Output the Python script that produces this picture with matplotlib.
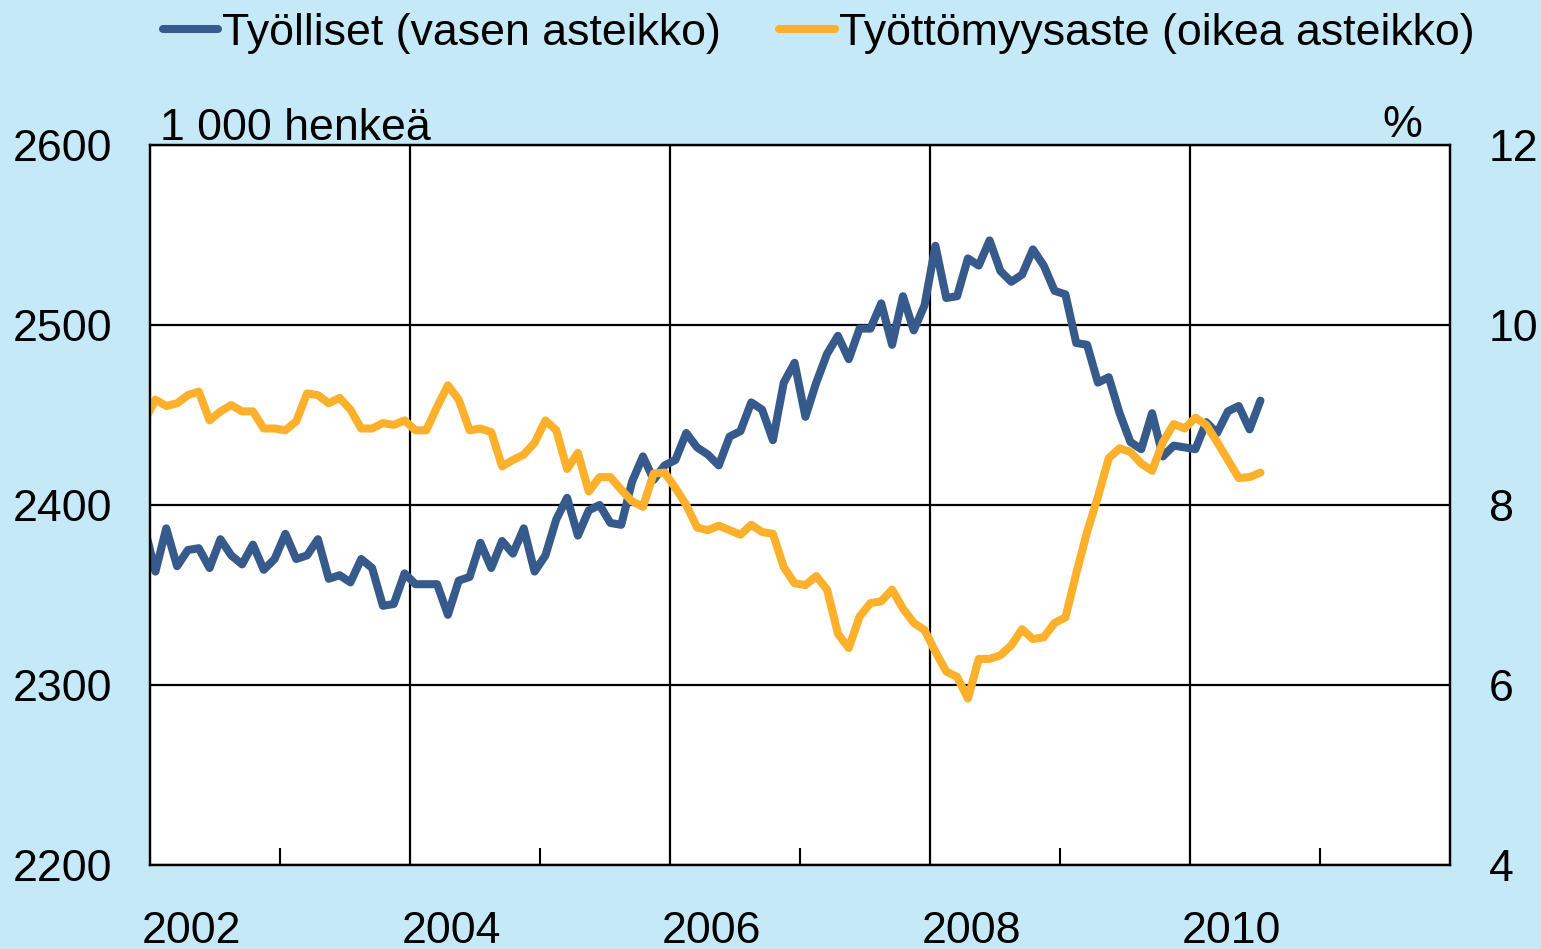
import numpy as np
import matplotlib
matplotlib.use("Agg")
import matplotlib.pyplot as plt

plt.rcParams['font.family'] = ['Liberation Sans', 'DejaVu Sans']

# kuukausidata, joulukuu 2001 - heinäkuu 2010
kuukaudet = np.arange(-1, 103)
tyolliset = [2387,
             2363, 2387, 2366, 2375, 2376, 2365, 2381, 2372, 2367, 2378, 2364, 2370,
             2384, 2370, 2372, 2381, 2359, 2361, 2357, 2370, 2365, 2344, 2345, 2362,
             2356, 2356, 2356, 2339, 2358, 2360, 2379, 2365, 2380, 2373, 2387, 2363,
             2372, 2392, 2404, 2383, 2397, 2400, 2390, 2389, 2413, 2427, 2414, 2422,
             2425, 2440, 2432, 2428, 2422, 2438, 2441, 2457, 2453, 2436, 2468, 2479,
             2449, 2468, 2484, 2494, 2481, 2498, 2498, 2512, 2489, 2516, 2497, 2511,
             2544, 2515, 2516, 2537, 2533, 2547, 2530, 2524, 2528, 2542, 2533, 2519,
             2517, 2490, 2489, 2468, 2471, 2451, 2435, 2431, 2451, 2427, 2433, 2432,
             2431, 2446, 2440, 2452, 2455, 2442, 2458]
tyottomyysaste = [8.94,
                  9.17, 9.10, 9.13, 9.22, 9.26, 8.94, 9.04, 9.11, 9.04, 9.04, 8.85, 8.85,
                  8.83, 8.93, 9.24, 9.22, 9.13, 9.19, 9.06, 8.85, 8.85, 8.91, 8.89, 8.94,
                  8.83, 8.83, 9.09, 9.33, 9.17, 8.83, 8.85, 8.81, 8.43, 8.50, 8.56, 8.69,
                  8.94, 8.83, 8.40, 8.58, 8.15, 8.31, 8.31, 8.17, 8.04, 7.98, 8.35, 8.36,
                  8.19, 8.00, 7.75, 7.72, 7.77, 7.72, 7.67, 7.78, 7.70, 7.68, 7.31, 7.13,
                  7.11, 7.21, 7.06, 6.57, 6.41, 6.76, 6.91, 6.93, 7.06, 6.85, 6.69, 6.61,
                  6.37, 6.15, 6.09, 5.85, 6.29, 6.29, 6.33, 6.44, 6.62, 6.51, 6.53, 6.69,
                  6.75, 7.24, 7.70, 8.09, 8.52, 8.63, 8.59, 8.46, 8.38, 8.70, 8.90, 8.85,
                  8.97, 8.89, 8.70, 8.50, 8.30, 8.31, 8.36]
vuodet = [2002, 2004, 2006, 2008, 2010]
vasen_asteikko = [2200, 2300, 2400, 2500, 2600]
oikea_asteikko = [4, 6, 8, 10, 12]

sininen = '#375a8c'
oranssi = '#fdb02b'
koko = 32.2

x = 2002 + (kuukaudet + 0.5) / 12

fig = plt.figure(figsize=(15.41, 9.49), dpi=100, facecolor='#c6e9f8')
ax = fig.add_axes([150/1541, 84/949, 1300/1541, 720/949])
ax.set_facecolor('white')

l1, = ax.plot(x, tyolliset, color=sininen, lw=5.8, solid_joinstyle='round',
              solid_capstyle='round', label='Työlliset (vasen asteikko)')
ax.set_xlim(2002, 2012)
ax.set_ylim(2200, 2600)
ax.set_yticks(vasen_asteikko)
ax.tick_params(axis='y', length=0, pad=27, labelsize=koko)

# pystyviivat parillisille vuosille, pikkutikit parittomille
ax.set_xticks(vuodet[1:])
ax.set_xticks([2003, 2005, 2007, 2009, 2011], minor=True)
ax.tick_params(axis='x', which='major', length=0, labelbottom=False)
ax.tick_params(axis='x', which='minor', direction='in', length=12, width=1.5)
ax.grid(True, color='black', lw=1.6)
for s in ax.spines.values():
    s.set_linewidth(1.6)

for v in vuodet:
    ax.text(v + 0.32, -0.108, str(v), transform=ax.get_xaxis_transform(),
            ha='center', va='baseline', fontsize=koko)

ax2 = ax.twinx()
l2, = ax2.plot(x, tyottomyysaste, color=oranssi, lw=5.8, solid_joinstyle='round',
               solid_capstyle='round', label='Työttömyysaste (oikea asteikko)')
ax2.set_ylim(4, 12)
ax2.set_yticks(oikea_asteikko)
ax2.tick_params(axis='y', length=0, pad=28, labelsize=koko)
for s in ax2.spines.values():
    s.set_linewidth(1.6)

fig.text(160/1541, 1 - 140/949, '1 000 henkeä', fontsize=koko, va='baseline')
fig.text(1422/1541, 1 - 137/949, '%', fontsize=koko, va='baseline', ha='right')

fig.legend([l1, l2], [l1.get_label(), l2.get_label()], loc='center left',
           bbox_to_anchor=(163/1541, 1 - 33/949), ncol=2, frameon=False,
           borderpad=0, borderaxespad=0, handlelength=1.23, handletextpad=0.1,
           columnspacing=1.3, fontsize=koko)

fig.savefig('out.png', dpi=100, facecolor=fig.get_facecolor())
